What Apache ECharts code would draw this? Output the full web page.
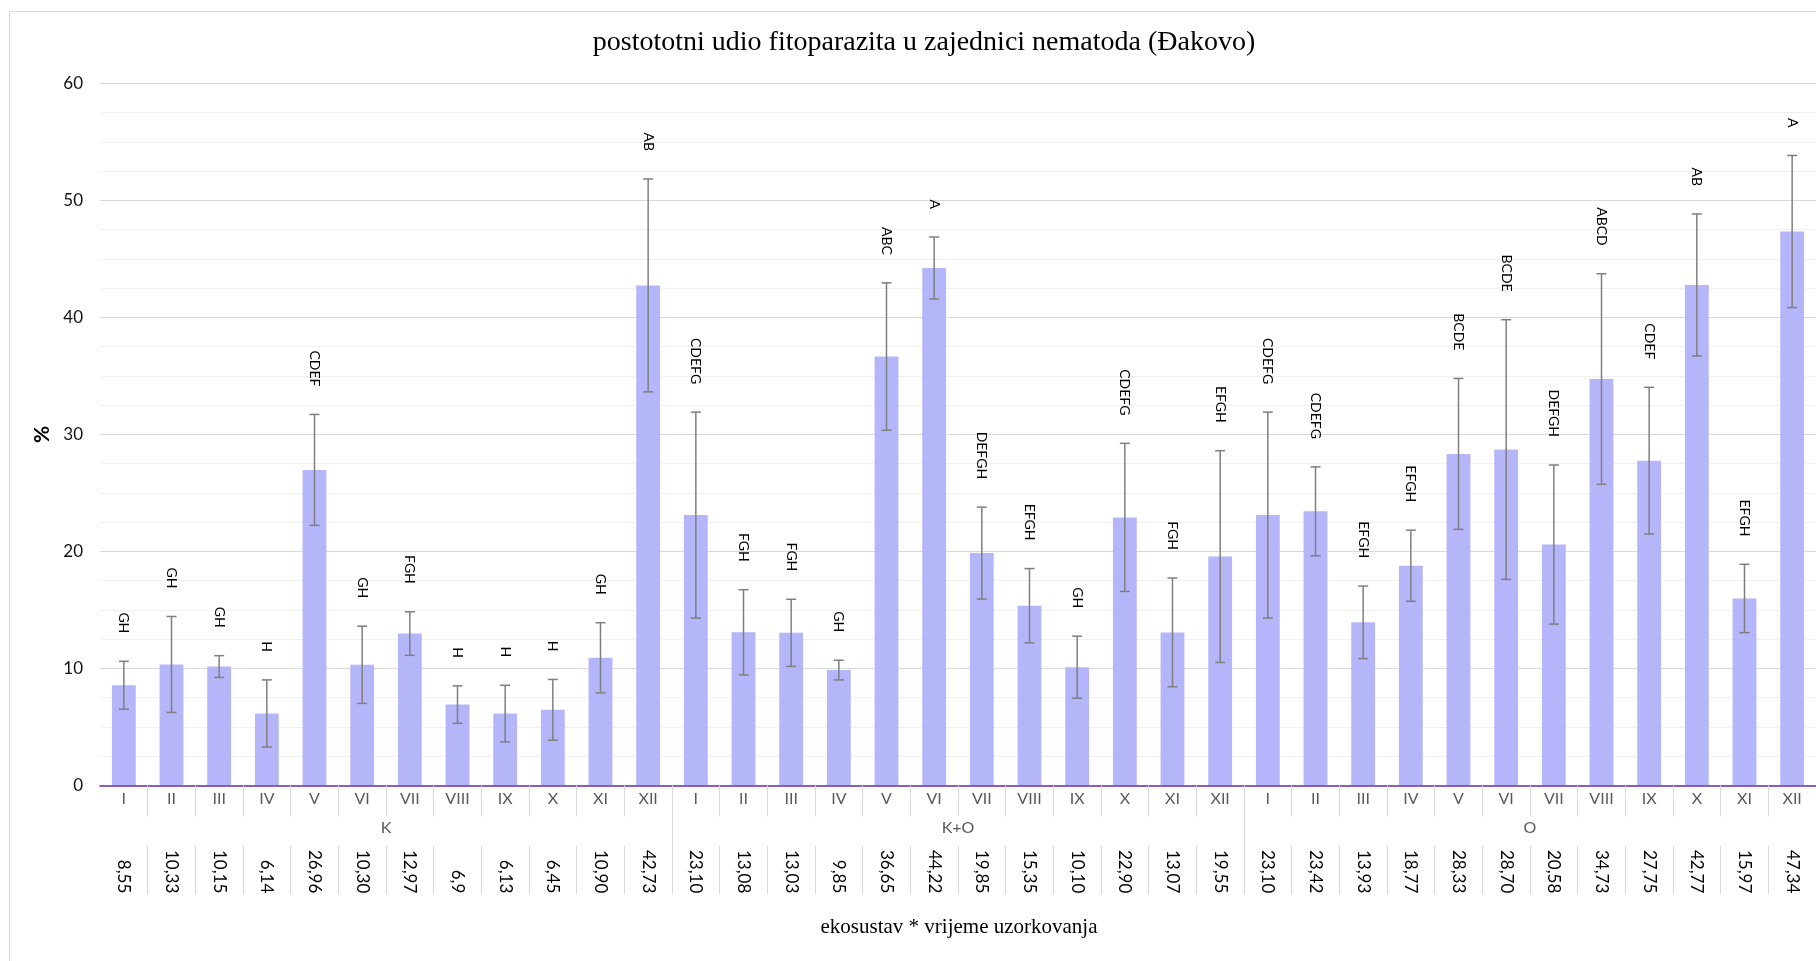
<!DOCTYPE html>
<html>
<head>
<meta charset="utf-8">
<script src="https://cdn.jsdelivr.net/npm/echarts@6/dist/echarts.min.js"></script>
<style>html,body{margin:0;padding:0;background:#fff}#c{width:1816px;height:961px}</style>
</head>
<body>
<div id="c"></div>
<script>
// ---- data ----
const groups = ['K', 'K+O', 'O'];
const months = ['I','II','III','IV','V','VI','VII','VIII','IX','X','XI','XII'];
const meanK  = [8.55, 10.33, 10.15, 6.14, 26.96, 10.30, 12.97, 6.9, 6.13, 6.45, 10.90, 42.73];
const meanKO = [23.10, 13.08, 13.03, 9.85, 36.65, 44.22, 19.85, 15.35, 10.10, 22.90, 13.07, 19.55];
const meanO  = [23.10, 23.42, 13.93, 18.77, 28.33, 28.70, 20.58, 34.73, 27.75, 42.77, 15.97, 47.34];
const valueTextK  = ['8,55','10,33','10,15','6,14','26,96','10,30','12,97','6,9','6,13','6,45','10,90','42,73'];
const valueTextKO = ['23,10','13,08','13,03','9,85','36,65','44,22','19,85','15,35','10,10','22,90','13,07','19,55'];
const valueTextO  = ['23,10','23,42','13,93','18,77','28,33','28,70','20,58','34,73','27,75','42,77','15,97','47,34'];
const errK  = [2.05, 4.1, 0.93, 2.87, 4.74, 3.3, 1.86, 1.6, 2.42, 2.6, 3.0, 9.1];
const errKO = [8.8, 3.64, 2.87, 0.84, 6.3, 2.65, 3.93, 3.18, 2.65, 6.33, 4.65, 9.05];
const errO  = [8.8, 3.8, 3.1, 3.04, 6.45, 11.1, 6.8, 9.0, 6.27, 6.07, 2.92, 6.5];
const letK  = ['GH','GH','GH','H','CDEF','GH','FGH','H','H','H','GH','AB'];
const letKO = ['CDEFG','FGH','FGH','GH','ABC','A','DEFGH','EFGH','GH','CDEFG','FGH','EFGH'];
const letO  = ['CDEFG','CDEFG','EFGH','EFGH','BCDE','BCDE','DEFGH','ABCD','CDEF','AB','EFGH','A'];
const yTicks = [0, 10, 20, 30, 40, 50, 60];
const titleText = 'postototni udio fitoparazita u zajednici nematoda (Đakovo)';
const xName = 'ekosustav * vrijeme uzorkovanja';
const yName = '%';

// ---- build ----
const cats = [].concat(months, months, months);
const means = [].concat(meanK, meanKO, meanO);
const valueTexts = [].concat(valueTextK, valueTextKO, valueTextO);
const errs = [].concat(errK, errKO, errO);
const lets = [].concat(letK, letKO, letO);
const errData = means.map((m, i) => [i, m, errs[i], lets[i]]);

const SANS = 'Lato, "Open Sans", sans-serif';
const chart = echarts.init(document.getElementById('c'));
const noFirst = function (i) { return i !== 0; };

chart.setOption({
  animation: false,
  title: {
    text: titleText, left: 924, top: 29, textAlign: 'center', padding: 0,
    textStyle: { fontFamily: '"Liberation Serif", "Times New Roman", serif', fontSize: 28, fontWeight: 'normal', color: '#000' }
  },
  graphic: [
    { type: 'rect', shape: { x: 9.5, y: 11.5, width: 2000, height: 1000 }, style: { fill: 'none', stroke: '#d9d9d9', lineWidth: 1 }, silent: true },
    { type: 'text', x: 959, y: 927, style: { text: xName, align: 'center', verticalAlign: 'middle', font: '21px "Liberation Serif", serif', fill: '#000' } }
  ],
  grid: { left: 100, right: 0, top: 83.4, bottom: 175.7, containLabel: false },
  xAxis: [
    {
      type: 'category', data: cats, position: 'bottom', offset: 0,
      axisLine: { show: true, lineStyle: { color: '#7030a0', width: 1.5 } },
      axisTick: { show: true, length: 31, interval: noFirst, lineStyle: { color: '#d9d9d9' } },
      axisLabel: { interval: 0, margin: 6, color: '#595959', fontFamily: SANS, fontSize: 16 },
      splitLine: { show: false }, z: 5
    },
    {
      type: 'category', data: valueTexts, position: 'bottom', offset: 60,
      axisLine: { show: false },
      axisTick: { show: true, length: 49, interval: noFirst, lineStyle: { color: '#d9d9d9' } },
      axisLabel: { interval: 0, rotate: -90, align: 'right', verticalAlign: 'middle', margin: 48, color: '#000', fontFamily: SANS, fontSize: 17 },
      splitLine: { show: false }
    },
    {
      type: 'category', data: groups, position: 'bottom', offset: 0,
      axisLine: { show: false },
      axisTick: { show: true, length: 109, interval: noFirst, lineStyle: { color: '#d9d9d9' } },
      axisLabel: { interval: 0, margin: 35, color: '#595959', fontFamily: SANS, fontSize: 16 },
      splitLine: { show: false }
    }
  ],
  yAxis: {
    type: 'value', min: yTicks[0], max: yTicks[yTicks.length - 1], interval: 10,
    name: yName, nameLocation: 'middle', nameGap: 46, nameRotate: 90,
    nameTextStyle: { fontFamily: SANS, fontSize: 21, fontWeight: 'bold', color: '#000' },
    axisLine: { show: false }, axisTick: { show: false },
    axisLabel: { margin: 17, color: '#111', fontFamily: SANS, fontSize: 17 },
    splitLine: { show: true, lineStyle: { color: '#d9d9d9', width: 1 } },
    minorTick: { show: false, splitNumber: 4 },
    minorSplitLine: { show: true, lineStyle: { color: '#f0f0f0', width: 1 } }
  },
  series: [
    {
      type: 'bar', xAxisIndex: 0, data: means, barWidth: '50%',
      itemStyle: { color: '#b5b5fa' }, z: 2
    },
    {
      type: 'custom', xAxisIndex: 0, data: errData, encode: { x: 0, y: 1 }, clip: false, z: 4,
      renderItem: function (params, api) {
        const i = api.value(0), m = api.value(1), e = api.value(2);
        const letter = lets[params.dataIndex];
        const top = api.coord([i, m + e]);
        const bot = api.coord([i, m - e]);
        const x = top[0];
        const cap = 5;
        const ls = { stroke: '#7f7f7f', lineWidth: 1.5 };
        return {
          type: 'group',
          children: [
            { type: 'line', shape: { x1: x, y1: top[1], x2: x, y2: bot[1] }, style: ls },
            { type: 'line', shape: { x1: x - cap, y1: top[1], x2: x + cap, y2: top[1] }, style: ls },
            { type: 'line', shape: { x1: x - cap, y1: bot[1], x2: x + cap, y2: bot[1] }, style: ls },
            { type: 'text', x: x, y: top[1] - 28, rotation: -Math.PI / 2,
              style: { text: letter, align: 'right', verticalAlign: 'middle', fill: '#000', font: '14px ' + SANS } }
          ]
        };
      }
    }
  ]
});
</script>
</body>
</html>
